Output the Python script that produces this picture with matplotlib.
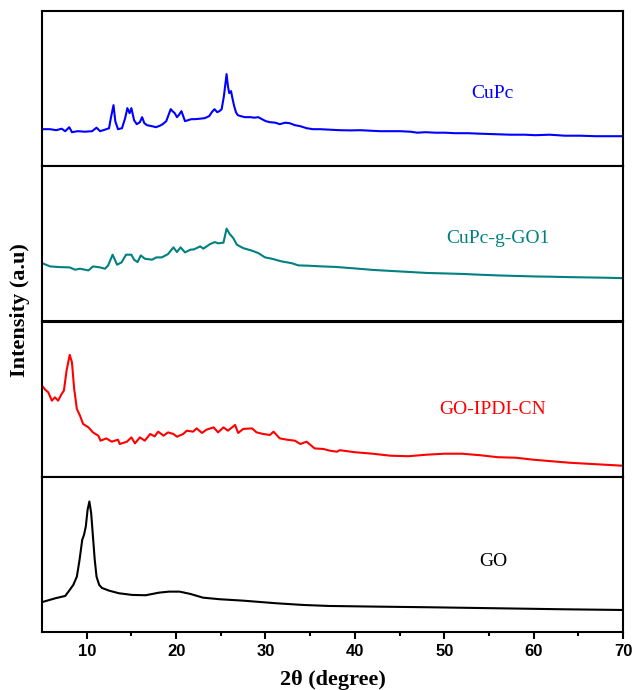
import numpy as np
import matplotlib.pyplot as plt


# =========================
# Data (intensity in arbitrary units per panel)
# =========================

cupc_2theta = [5.0, 5.9, 6.6, 7.2, 7.6, 8.05, 8.35, 9.0, 9.8, 10.6, 11.1, 11.5, 12.2, 12.5,
               12.7, 13.0, 13.2, 13.5, 13.95, 14.3, 14.55, 14.8, 15.0, 15.3, 15.6, 15.95,
               16.2, 16.45, 16.75, 17.3, 17.75, 18.2, 18.5, 18.9, 19.15, 19.4, 19.6, 19.85,
               20.1, 20.3, 20.6, 20.8, 21.0, 21.35, 21.7, 22.1, 22.7, 23.2, 23.7, 24.0, 24.3,
               24.6, 24.85, 25.1, 25.35, 25.65, 25.8, 25.95, 26.15, 26.3, 26.5, 26.7, 26.9,
               27.25, 27.7, 28.3, 28.8, 29.2, 29.6, 30.05, 30.5, 31.1, 31.6, 32.2, 32.7, 33.3,
               33.9, 34.6, 35.3, 36.1, 37.2, 38.3, 39.5, 40.6, 41.7, 42.8, 43.9, 45.05, 46.2,
               47.0, 47.9, 49.0, 50.1, 51.2, 52.7, 54.0, 55.7, 57.4, 59.0, 60.2, 61.8, 63.5,
               65.2, 66.9, 68.6, 70.0]
cupc_int = [37, 37, 36, 37.5, 35, 39, 34, 35, 34.5, 35, 38.5, 35, 37, 38,
            48, 61, 45, 37, 38, 48, 58, 53, 58, 46, 42, 44,
            49, 43, 41, 40, 39, 40.5, 42, 45, 51, 57, 55, 53,
            49, 51, 55, 50, 45, 46, 47, 47, 47.5, 48, 50, 54, 57,
            54, 55, 57, 70, 92, 80, 73, 75, 68, 60, 54, 51,
            50, 49, 49, 48.5, 49, 47, 45, 44, 43.5, 42, 43.5, 43, 41,
            40, 38, 37, 37, 36.5, 36, 35.8, 36, 35.5, 35, 35, 35, 34.5,
            33.5, 34, 33.5, 33.5, 33, 33, 32.5, 32, 31.5, 31.5, 31, 31.5, 30.5,
            30.5, 30, 30, 30]

graft_2theta = [5.0, 5.9, 7.0, 8.1, 8.7, 9.25, 10.2, 10.7, 11.5, 12.05, 12.4, 12.9, 13.4,
                13.9, 14.4, 15.0, 15.3, 15.7, 16.05, 16.5, 17.3, 17.8, 18.4, 19.1, 19.7,
                20.1, 20.5, 21.0, 21.6, 22.0, 22.7, 23.05, 23.8, 24.35, 24.7, 25.3, 25.65,
                26.0, 26.4, 26.8, 27.5, 28.5, 29.2, 29.95, 30.7, 31.8, 32.9, 33.7, 34.8,
                36.3, 37.8, 40.0, 42.0, 44.0, 46.0, 48.0, 50.0, 52.0, 54.0, 56.0, 58.0,
                60.0, 62.0, 64.0, 66.0, 68.0, 70.0]
graft_int = [58.3, 55, 54.3, 54, 51.7, 52.7, 51, 55, 54, 52.7, 56, 66.7, 56.7,
             59, 66.7, 66.7, 61.7, 59.3, 66, 62.7, 61.7, 64, 64, 67.3, 74,
             69.3, 74, 69, 71.7, 72, 75, 72.7, 77.3, 79.3, 78, 78.7, 92.7,
             87.3, 83.3, 76.7, 73.3, 70.7, 68.3, 64, 62.7, 60, 58.3, 56, 55.7,
             55, 54.5, 53, 51.5, 50.5, 49.5, 48.5, 48, 47.5, 46.7, 46, 45.5,
             45, 44.7, 44.3, 44, 43.7, 43.3]

ipdi_2theta = [5.0, 5.35, 5.7, 6.1, 6.45, 6.8, 7.2, 7.45, 7.75, 8.1, 8.35, 8.6, 8.9,
               9.25, 9.6, 10.2, 10.7, 11.3, 11.55, 12.2, 12.8, 13.5, 13.7, 14.5, 15.0,
               15.4, 15.95, 16.5, 17.1, 17.6, 18.0, 18.6, 19.1, 19.7, 20.1, 20.8, 21.2,
               21.9, 22.3, 22.9, 23.4, 24.2, 24.7, 25.3, 25.8, 26.6, 26.95, 27.5, 28.5,
               29.0, 29.75, 30.5, 30.9, 31.6, 32.4, 33.3, 33.9, 34.6, 35.5, 36.5, 37.2,
               38.0, 38.3, 40.0, 42.0, 44.0, 46.0, 48.0, 50.0, 52.0, 54.0, 56.0, 58.0,
               60.0, 62.0, 64.0, 66.0, 68.0, 70.0]
ipdi_int = [91, 87, 84.3, 76, 79.3, 76, 82.7, 86, 106, 121.7, 114.3, 87.7, 67.7,
            61, 52.7, 49.3, 44.3, 41, 36, 38.3, 35, 37, 32.7, 35, 39.3,
            33.3, 39.3, 36, 42.7, 40.3, 45, 41, 44.3, 42.7, 40, 42.7, 46,
            45, 48.3, 43.7, 47, 49.3, 44.3, 49.3, 46, 51.7, 43.7, 47.7, 48.3,
            44.3, 42.7, 41.7, 45, 38.3, 37, 36, 32.7, 35, 28.3, 27.7, 26,
            25, 26.5, 24.5, 23, 21, 20.5, 22, 23, 23, 21.5, 19.5, 19,
            17, 15.5, 14, 13, 12, 11]

go_2theta = [4.8, 6.5, 7.6, 8.1, 8.5, 8.9, 9.2, 9.5, 9.7, 9.9, 10.1, 10.3, 10.5, 10.7,
             10.9, 11.1, 11.4, 11.7, 12.5, 13.6, 15.1, 16.6, 18.1, 19.2, 20.4, 21.6, 23.0,
             24.9, 27.5, 31.2, 34.2, 37.1, 42.7, 48.3, 55.8, 63.2, 69.8]
go_int = [29.3, 33.7, 36, 42, 47, 55.3, 72, 92, 97, 105.3, 122, 130.3, 118.7, 95.3,
          72, 55.3, 47, 44, 41.3, 38.7, 37, 36.7, 39.3, 40.3, 40.3, 38, 34.3,
          32.7, 31.3, 28.7, 27, 26, 25.3, 24.7, 23.7, 22.7, 22]

panel_series = [
    (cupc_2theta, cupc_int, "CuPc", "#0000FF", 0.776, 0.47),
    (graft_2theta, graft_int, "CuPc-g-GO1", "#008080", 0.785, 0.535),
    (ipdi_2theta, ipdi_int, "GO-IPDI-CN", "#FF0000", 0.775, 0.43),
    (go_2theta, go_int, "GO", "#000000", 0.776, 0.457),
]

x_ticks = [10, 20, 30, 40, 50, 60, 70]


# =========================
# Figure
# =========================

serif = "Liberation Serif"
sans = "Liberation Sans"

fig = plt.figure(figsize=(6.33, 6.9), dpi=100)

left, right = 42 / 633, 623 / 633
top, bottom = 1 - 11 / 690, 1 - 632 / 690
panel_h = (top - bottom) / 4

axes = []
for i, (tt, inten, label, color, lx, ly) in enumerate(panel_series):
    y0 = top - (i + 1) * panel_h
    ax = fig.add_axes([left, y0, right - left, panel_h])
    ax.plot(tt, inten, color=color, lw=1.5)
    ax.set_xlim(5, 70)
    ax.set_ylim(0, 155)
    ax.set_yticks([])
    ax.text(lx, ly, label, transform=ax.transAxes, color=color,
            ha="center", va="center", fontsize=14, family=serif)
    for spine in ax.spines.values():
        spine.set_linewidth(1.5)
    if i < 3:
        ax.set_xticks([])
    axes.append(ax)

ax = axes[-1]
ax.set_xticks(x_ticks)
ax.set_xticks(np.arange(15, 70, 10), minor=True)
ax.tick_params(axis="x", which="major", direction="out", length=5, width=1.5, pad=4)
ax.tick_params(axis="x", which="minor", direction="out", length=3, width=1.5)
for lab in ax.get_xticklabels():
    lab.set_fontfamily(sans)
    lab.set_fontweight("bold")
    lab.set_fontsize(12)

fig.text(333 / 633, 1 - 680 / 690, "2θ (degree)",
         ha="center", va="center", family=serif, fontweight="bold", fontsize=16)

fig.text(20 / 633, 1 - 310 / 690, "Intensity (a.u)", rotation=90,
         ha="center", va="center", family=serif, fontweight="bold", fontsize=16)

fig.savefig("out.png", dpi=100)
plt.close(fig)
